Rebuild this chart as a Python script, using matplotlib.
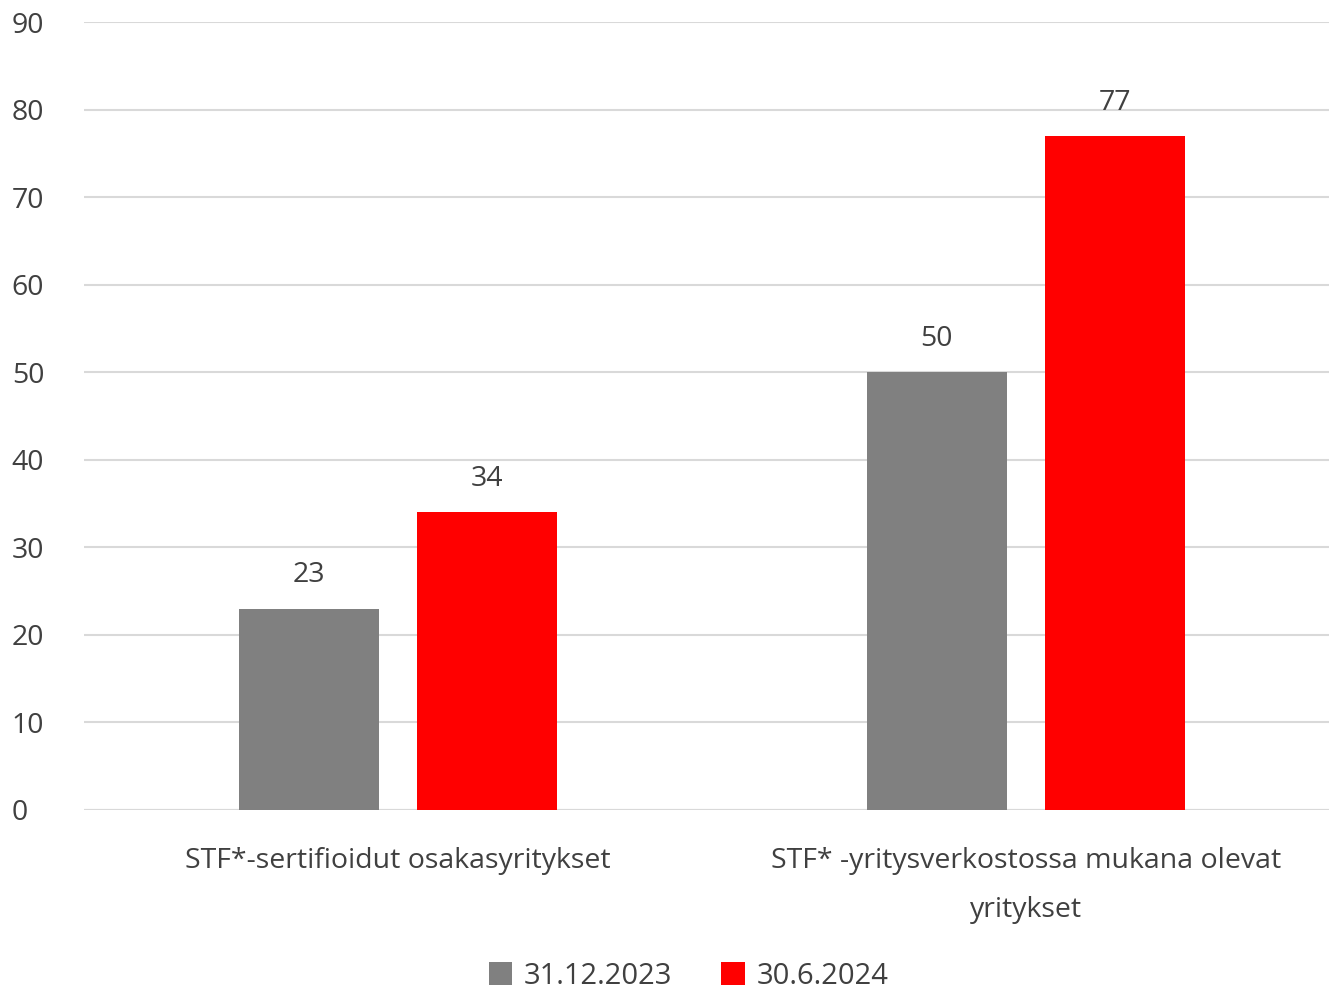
import matplotlib.pyplot as plt
import numpy as np

categories = ["STF*-sertifioidut osakasyritykset",
              "STF* -yritysverkostossa mukana olevat\nyritykset"]
series_names = ["31.12.2023", "30.6.2024"]
values_2023 = [23, 50]
values_2024 = [34, 77]
colors = ["#808080", "#ff0000"]

plt.rcParams['font.family'] = ['Open Sans', 'DejaVu Sans']
text_color = "#404040"

fig = plt.figure(figsize=(13.29, 9.93), dpi=100)
ax = fig.add_axes([0.0632, 0.1843, 0.945, 0.7935])

x = np.arange(len(categories))
w = 0.223
off = 0.142
b1 = ax.bar(x - off, values_2023, w, color=colors[0], label=series_names[0], zorder=3)
b2 = ax.bar(x + off, values_2024, w, color=colors[1], label=series_names[1], zorder=3)

for bars in (b1, b2):
    for r in bars:
        ax.text(r.get_x() + r.get_width() / 2, r.get_height() + 2.2, f"{int(r.get_height())}",
                ha="center", va="bottom", fontsize=20.5, color=text_color)

ax.set_xlim(-0.5, 1.5)
ax.set_ylim(0, 90)
ax.set_yticks(range(0, 91, 10))
ax.yaxis.grid(True, color="#d9d9d9", linewidth=1.5, zorder=0)
ax.set_axisbelow(True)
for s in ax.spines.values():
    s.set_visible(False)
ax.axhline(0, color="#d9d9d9", linewidth=1.5, zorder=2)
ax.tick_params(axis="both", length=0, labelsize=20.5, colors=text_color)
ax.tick_params(axis="y", pad=52)
for lab in ax.get_yticklabels():
    lab.set_horizontalalignment("left")
ax.tick_params(axis="x", pad=27)
ax.set_xticks(x)
ax.set_xticklabels(categories, linespacing=2.0)

fig.legend(loc="lower center", bbox_to_anchor=(0.518, -0.024), ncol=2, frameon=False,
           fontsize=21, handlelength=0.8, handleheight=0.8, handletextpad=0.4,
           columnspacing=1.7, labelcolor=text_color)

fig.savefig("out.png", dpi=100)
